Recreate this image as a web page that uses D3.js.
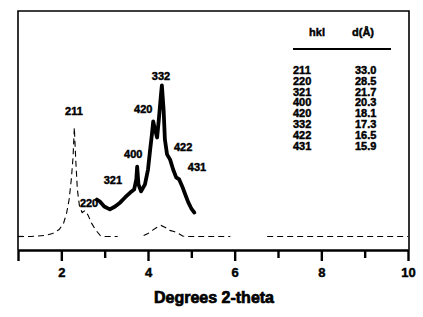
<!DOCTYPE html>
<html>
<head>
<meta charset="utf-8">
<script src="https://cdn.jsdelivr.net/npm/d3@7"></script>
<style>
  body { margin: 0; background: #fff; }
  text { font-family: "Liberation Sans", Arial, sans-serif; font-weight: bold; fill: #000; stroke: #000; stroke-width: 0.45px; }
  .narrow { font-family: "Liberation Sans Narrow", "Liberation Sans", Arial, sans-serif; }
</style>
</head>
<body>
<svg id="chart"></svg>
<script>

var width = 423;
var height = 317;

// thin trace (null = gap in the scan)
var thinTheta = [1.0, 1.3, 1.6, 1.8, 1.95, 2.05, 2.12, 2.18, 2.23, 2.27, 2.30, 2.33, 2.37, 2.42, 2.48, 2.55, 2.62, 2.7, 2.8, 2.9, 3.0, 3.3, 3.6,
                 3.9, 4.0, 4.1, 4.2, 4.3, 4.4, 4.5, 4.6, 4.7, 4.8, 4.9, 5.9, 6.3, 6.75, 10.0];
var thinInt   = [0, 0, 0.4, 1.3, 3.1, 5.8, 10.2, 16.4, 25.3, 35.0, 48.3, 35.0, 20.8, 13.3, 10.6, 11.5, 9.3, 5.8, 2.7, 0.4, 0, 0, null,
                 0.4, 1.3, 2.7, 4.0, 4.9, 4.0, 2.7, 2.2, 1.3, 0.2, 0, 0, null, 0, 0];

// thick trace
var thickTheta = [2.82, 2.89, 2.99, 3.12, 3.24, 3.36, 3.47, 3.59, 3.68, 3.73, 3.75, 3.78, 3.84, 3.93, 4.00, 4.05, 4.09, 4.12,
                  4.16, 4.21, 4.25, 4.30, 4.32, 4.36, 4.39, 4.44, 4.51, 4.58, 4.65, 4.72, 4.79, 4.86, 4.93, 5.00, 5.07];
var thickInt   = [16.4, 15.5, 13.3, 12.0, 13.3, 15.1, 17.3, 19.5, 20.8, 25.3, 31.0, 23.1, 20.0, 23.1, 29.7, 38.6, 45.2, 51.0,
                  47.5, 43.9, 51.9, 63.0, 67.0, 56.3, 43.0, 36.4, 34.1, 29.7, 26.2, 25.3, 22.2, 18.6, 15.1, 12.4, 10.6];

// peak labels
var peakNames = ["211", "220", "321", "400", "420", "332", "422", "431"];
var peakTheta = [2.29, 2.64, 3.19, 3.66, 3.89, 4.30, 4.81, 5.13];
var peakLevel = [55.4, 14.6, 24.8, 36.4, 56.3, 71.0, 39.5, 30.6];

// table
var tableHkl = ["211", "220", "321", "400", "420", "332", "422", "431"];
var tableD   = ["33.0", "28.5", "21.7", "20.3", "18.1", "17.3", "16.5", "15.9"];

var xTicks = [1, 2, 3, 4, 5, 6, 7, 8, 9, 10];
var xTickLabels = ["2", "4", "6", "8", "10"];

var svg = d3.select("#chart")
  .attr("width", width)
  .attr("height", height);

var x = d3.scaleLinear().domain([1, 10]).range([18, 408]);
var y = d3.scaleLinear().domain([-6, 100]).range([250, 11]);

// frame
svg.append("path")
  .attr("d", "M18,250 V11 H409 V250")
  .attr("fill", "none")
  .attr("stroke", "#000")
  .attr("stroke-width", 1.6);

// bottom axis
var xAxis = d3.axisBottom(x)
  .tickValues(xTicks)
  .tickSize(0)
  .tickFormat("");

var gx = svg.append("g")
  .attr("transform", "translate(0,250)")
  .call(xAxis);
gx.select(".domain").attr("stroke-width", 2.5);

gx.selectAll(".tick").append("line")
  .attr("y1", 0)
  .attr("y2", function(d) { return d % 2 === 0 || d === 1 ? 11 : 8; })
  .attr("stroke", "#000")
  .attr("stroke-width", 2.4);

gx.selectAll(".tick").filter(function(d) { return xTickLabels.indexOf(String(d)) >= 0; })
  .append("text")
  .attr("y", 27)
  .attr("text-anchor", "middle")
  .style("font-size", "13px")
  .text(function(d) { return d; });

// small baseline mark on the left
svg.append("line")
  .attr("x1", 18).attr("x2", 23)
  .attr("y1", y(0)).attr("y2", y(0))
  .attr("stroke", "#000").attr("stroke-width", 1.2);

svg.append("text")
  .attr("x", 214)
  .attr("y", 303)
  .attr("text-anchor", "middle")
  .style("font-size", "16px")
  .style("stroke-width", "0.7px")
  .text("Degrees 2-theta");

// traces
var thinData = thinTheta.map(function(t, i) { return [t, thinInt[i]]; });
var thickData = thickTheta.map(function(t, i) { return [t, thickInt[i]]; });

var line = d3.line()
  .defined(function(d) { return d[1] !== null; })
  .x(function(d) { return x(d[0]); })
  .y(function(d) { return y(d[1]); });

svg.append("path")
  .datum(thinData)
  .attr("d", line)
  .attr("fill", "none")
  .attr("stroke", "#000")
  .attr("stroke-width", 1.1)
  .attr("stroke-dasharray", "6,4");

svg.append("path")
  .datum(thickData)
  .attr("d", line)
  .attr("fill", "none")
  .attr("stroke", "#000")
  .attr("stroke-width", 3.8)
  .attr("stroke-linejoin", "round")
  .attr("stroke-linecap", "round");

// peak labels
svg.selectAll(".peak")
  .data(peakNames)
  .enter().append("text")
  .attr("class", "peak narrow")
  .attr("x", function(d, i) { return x(peakTheta[i]); })
  .attr("y", function(d, i) { return y(peakLevel[i]); })
  .attr("dy", "0.35em")
  .attr("text-anchor", "middle")
  .style("font-size", "11px")
  .text(function(d) { return d; });

// table
var table = svg.append("g");

table.append("text")
  .attr("class", "narrow")
  .attr("x", 317).attr("y", 36)
  .attr("text-anchor", "middle")
  .style("font-size", "11px")
  .text("hkl");

table.append("text")
  .attr("class", "narrow")
  .attr("x", 363).attr("y", 36)
  .attr("text-anchor", "middle")
  .style("font-size", "11px")
  .text("d(Å)");

table.append("line")
  .attr("x1", 293).attr("x2", 391)
  .attr("y1", 49).attr("y2", 49)
  .attr("stroke", "#000").attr("stroke-width", 2.2);

table.selectAll(".hkl")
  .data(tableHkl)
  .enter().append("text")
  .attr("class", "hkl narrow")
  .attr("x", 293)
  .attr("y", function(d, i) { return 74 + i * 10.8; })
  .style("font-size", "11px")
  .text(function(d) { return d; });

table.selectAll(".dval")
  .data(tableD)
  .enter().append("text")
  .attr("class", "dval narrow")
  .attr("x", 355)
  .attr("y", function(d, i) { return 74 + i * 10.8; })
  .style("font-size", "11px")
  .text(function(d) { return d; });

</script>
</body>
</html>
